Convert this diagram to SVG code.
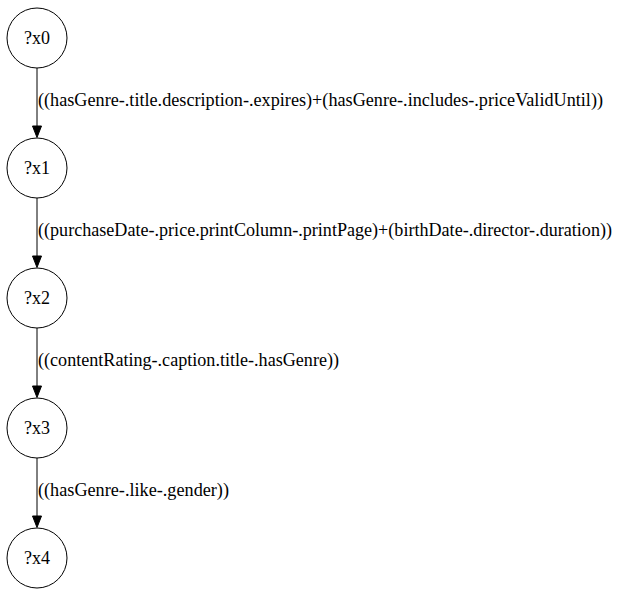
<svg xmlns="http://www.w3.org/2000/svg" width="619" height="595" viewBox="0 0 619 595">
<style>
.n ellipse{fill:none;stroke:#000;stroke-width:1}
text{font-family:'Liberation Serif','Times New Roman','DejaVu Serif',serif;font-size:18px;fill:#000}
.n text{text-anchor:middle}
.e path{fill:none;stroke:#000;stroke-width:1}
.e polygon{fill:#000;stroke:#000;stroke-width:1}
</style>
<rect width="619" height="595" fill="#fff"/>
<g id="edges" class="e">
<g id="e0"><path d="M37,68 V126"/><polygon points="32.5,126 37,137.5 41.5,126"/><text x="38" y="106" textLength="565" lengthAdjust="spacingAndGlyphs">((hasGenre-.title.description-.expires)+(hasGenre-.includes-.priceValidUntil))</text></g>
<g id="e1"><path d="M37,198 V256"/><polygon points="32.5,256 37,267.5 41.5,256"/><text x="38" y="236" textLength="574" lengthAdjust="spacingAndGlyphs">((purchaseDate-.price.printColumn-.printPage)+(birthDate-.director-.duration))</text></g>
<g id="e2"><path d="M37,328 V386"/><polygon points="32.5,386 37,397.5 41.5,386"/><text x="38" y="366" textLength="301" lengthAdjust="spacingAndGlyphs">((contentRating-.caption.title-.hasGenre))</text></g>
<g id="e3"><path d="M37,458 V516"/><polygon points="32.5,516 37,527.5 41.5,516"/><text x="38" y="496" textLength="191" lengthAdjust="spacingAndGlyphs">((hasGenre-.like-.gender))</text></g>
</g>
<g id="x0" class="n"><ellipse cx="37" cy="38" rx="30" ry="30"/><text x="37" y="44">?x0</text></g>
<g id="x1" class="n"><ellipse cx="37" cy="168" rx="30" ry="30"/><text x="37" y="174">?x1</text></g>
<g id="x2" class="n"><ellipse cx="37" cy="298" rx="30" ry="30"/><text x="37" y="304">?x2</text></g>
<g id="x3" class="n"><ellipse cx="37" cy="428" rx="30" ry="30"/><text x="37" y="434">?x3</text></g>
<g id="x4" class="n"><ellipse cx="37" cy="558" rx="30" ry="30"/><text x="37" y="564">?x4</text></g>
</svg>
